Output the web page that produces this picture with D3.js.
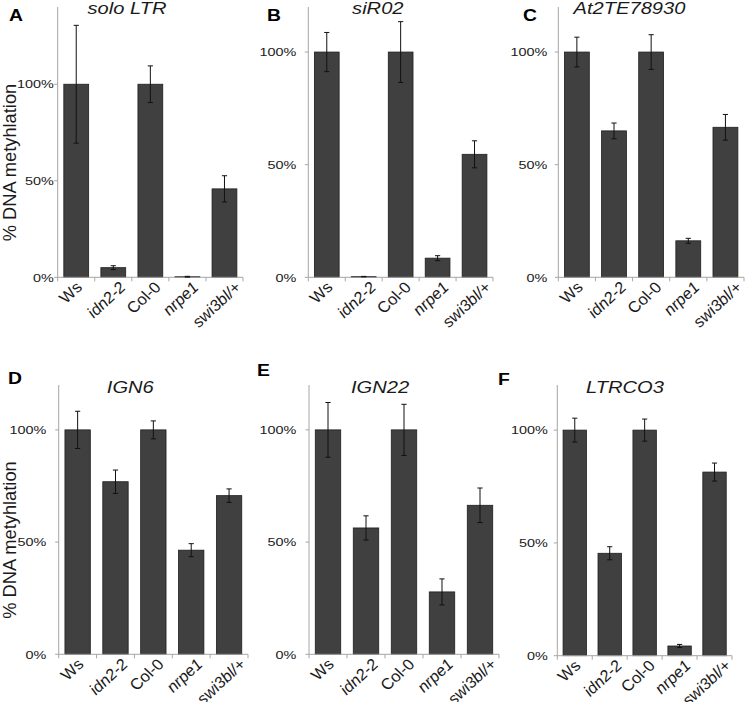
<!DOCTYPE html>
<html><head><meta charset="utf-8">
<script src="https://cdn.jsdelivr.net/npm/d3@7/dist/d3.min.js"></script>
<style>
body{margin:0;background:#fff}
text{font-family:"Liberation Sans",Arial,Helvetica,sans-serif}
</style>
</head><body>
<svg id="chart" width="745" height="702"></svg>
<script>
// ---------- data ----------
const categories = ["Ws", "idn2-2", "Col-0", "nrpe1", "swi3bl/+"];
const italicCategory = [false, true, false, true, true];
const panelLetters = ["A", "B", "C", "D", "E", "F"];
const panelTitles = ["solo LTR", "siR02", "At2TE78930", "IGN6", "IGN22", "LTRCO3"];
const yAxisTitle = "% DNA metyhlation";
const yTickValues = [0, 50, 100];
const yMaxPct = [140, 120, 120, 120, 120, 120];

const soloLTR      = [100, 5.0, 100, 0.3, 45.8];
const soloLTRErr   = [30.5, 1.0, 9.5, 0.2, 6.8];
const siR02        = [100, 0.3, 100, 8.5, 54.6];
const siR02Err     = [8.7, 0.1, 13.5, 1.1, 6.0];
const at2te        = [100, 65.0, 100, 16.2, 66.6];
const at2teErr     = [6.6, 3.5, 7.7, 1.1, 5.7];
const ign6         = [100, 76.9, 100, 46.4, 70.7];
const ign6Err      = [8.3, 5.2, 4.0, 2.9, 3.0];
const ign22        = [100, 56.3, 100, 27.8, 66.4];
const ign22Err     = [12.2, 5.4, 11.4, 5.8, 7.7];
const ltrco3       = [100, 45.4, 100, 4.3, 81.4];
const ltrco3Err    = [5.3, 2.9, 4.9, 0.7, 4.0];

const seriesValues = [soloLTR, siR02, at2te, ign6, ign22, ltrco3];
const seriesErrors = [soloLTRErr, siR02Err, at2teErr, ign6Err, ign22Err, ltrco3Err];

// ---------- layout (positions only) ----------
const layout = [
  {x0:57.7, x1:243,  yTop:7,   yBase:277.3, tickPad:0.5, letter:[9,21],   title:[127,14],    ylab:162.5},
  {x0:308.3,x1:493,  yTop:7,   yBase:277.3, tickPad:8.6, letter:[267,21], title:[377.8,14]},
  {x0:558.3,x1:744,  yTop:7,   yBase:277.3, tickPad:7.6, letter:[523,21], title:[629.5,14]},
  {x0:58.7, x1:248,  yTop:385, yBase:654.3, tickPad:9,   letter:[8,384],  title:[130.3,392.5], ylab:540},
  {x0:309,  x1:499,  yTop:385, yBase:654.3, tickPad:9.3, letter:[257,376],title:[380,392.5]},
  {x0:557.3,x1:732,  yTop:385, yBase:655.7, tickPad:6,   letter:[498,385],title:[625,392.5]}
];
const SX = 1.22;      // horizontal stretch of the original figure's text
const SX_LABEL = 1.08;
const axisColor = "#a6a6a6";
const barFill = "#404040";
const barStroke = "#1e1e1e";
const textColor = "#1a1a1a";

const svg = d3.select("#chart");

layout.forEach((L, i) => {
  const g = svg.append("g");
  const x = d3.scaleBand().domain(categories).range([L.x0, L.x1]).paddingInner(0.33).paddingOuter(0.165);
  const y = d3.scaleLinear().domain([0, yMaxPct[i]]).range([L.yBase, L.yTop]);
  const vals = seriesValues[i], errs = seriesErrors[i];

  // bars
  g.selectAll("rect.bar").data(categories).enter().append("rect")
    .attr("x", d => x(d)).attr("width", x.bandwidth())
    .attr("y", (d, k) => y(vals[k])).attr("height", (d, k) => y(0) - y(vals[k]))
    .attr("fill", barFill).attr("stroke", barStroke).attr("stroke-width", 0.8);

  // y axis
  g.append("line").attr("x1", L.x0).attr("x2", L.x0).attr("y1", L.yTop).attr("y2", L.yBase)
    .attr("stroke", axisColor).attr("stroke-width", 1);
  yTickValues.forEach(t => {
    g.append("line").attr("x1", L.x0 - 3.5).attr("x2", L.x0).attr("y1", y(t)).attr("y2", y(t))
      .attr("stroke", axisColor);
    g.append("text").attr("transform", `translate(${L.x0 - 3.5 - L.tickPad},${y(t)}) scale(${SX},1)`)
      .attr("text-anchor", "end").attr("dy", "0.36em").attr("font-size", 11.8)
      .attr("fill", textColor).text(t + "%");
  });

  // x axis
  g.append("line").attr("x1", L.x0).attr("x2", L.x1).attr("y1", L.yBase).attr("y2", L.yBase)
    .attr("stroke", axisColor).attr("stroke-width", 1);
  const step = x.step();
  d3.range(categories.length + 1).forEach(k => {
    const bx = k === categories.length ? L.x1 : x(categories[k]) - step * 0.165;
    g.append("line").attr("x1", bx).attr("x2", bx).attr("y1", L.yBase).attr("y2", L.yBase + 4)
      .attr("stroke", axisColor);
  });
  categories.forEach((c, k) => {
    const t = g.append("text").attr("text-anchor", "end").attr("font-size", 15.5)
      .attr("font-style", italicCategory[k] ? "italic" : "normal")
      .attr("fill", textColor).text(c);
    const w = t.node().getComputedTextLength();
    const cx = x(c) + x.bandwidth() / 2;
    t.attr("transform", `translate(${cx + 0.31 * w},${L.yBase + 11}) scale(${SX_LABEL},1) rotate(-45)`);
  });

  // error bars
  categories.forEach((c, k) => {
    const cx = x(c) + x.bandwidth() / 2;
    const top = y(vals[k] + errs[k]), bot = y(Math.max(0, vals[k] - errs[k]));
    g.append("line").attr("x1", cx).attr("x2", cx).attr("y1", top).attr("y2", bot)
      .attr("stroke", "#111").attr("stroke-width", 1);
    [top, bot].forEach(yy => g.append("line").attr("x1", cx - 2.6).attr("x2", cx + 2.6)
      .attr("y1", yy).attr("y2", yy).attr("stroke", "#111").attr("stroke-width", 1));
  });

  // title
  g.append("text").attr("transform", `translate(${L.title[0]},${L.title[1]}) scale(${SX},1)`)
    .attr("text-anchor", "middle").attr("font-size", 16.5).attr("font-style", "italic")
    .attr("fill", textColor).text(panelTitles[i]);
  // panel letter
  g.append("text").attr("transform", `translate(${L.letter[0]},${L.letter[1]}) scale(1.15,1)`)
    .attr("font-size", 16.8).attr("font-weight", "bold").attr("fill", "#000").text(panelLetters[i]);
  // y axis title
  if (L.ylab !== undefined) {
    g.append("text").attr("transform", `translate(16,${L.ylab}) scale(1.05,1) rotate(-90)`)
      .attr("text-anchor", "middle").attr("font-size", 18.3).attr("fill", textColor).text(yAxisTitle);
  }
});
</script>
</body></html>
